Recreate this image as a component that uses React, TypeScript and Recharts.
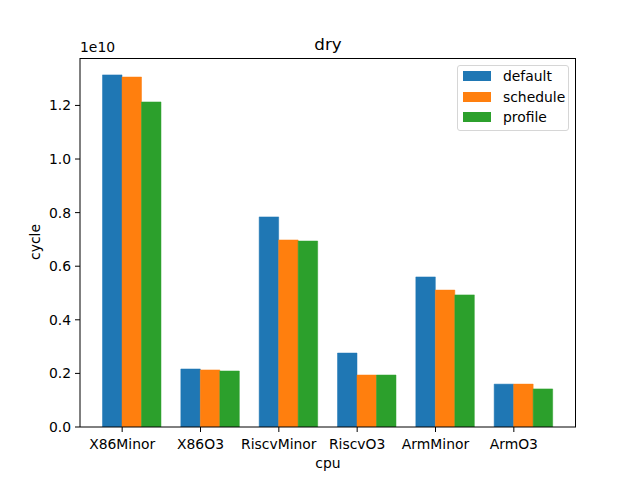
import { Bar, BarChart, Legend, XAxis, YAxis } from "recharts";

const categories = ["X86Minor", "X86O3", "RiscvMinor", "RiscvO3", "ArmMinor", "ArmO3"];
const seriesNames = ["default", "schedule", "profile"];
const defaultCycles = [1.314e10, 0.2165e10, 0.784e10, 0.276e10, 0.56e10, 0.16e10];
const scheduleCycles = [1.306e10, 0.213e10, 0.698e10, 0.194e10, 0.511e10, 0.16e10];
const profileCycles = [1.213e10, 0.209e10, 0.694e10, 0.194e10, 0.493e10, 0.142e10];
const yTicks = [0, 0.2e10, 0.4e10, 0.6e10, 0.8e10, 1.0e10, 1.2e10];
const yMax = 1.377e10;

const FONT = "'DejaVu Sans', sans-serif";
const FS = 13.9;

// pad is an empty first slot so the tick lands between default and schedule, like matplotlib
const data = categories.map((cpu, i) => ({
  cpu,
  pad: 0,
  default: defaultCycles[i],
  schedule: scheduleCycles[i],
  profile: profileCycles[i],
}));

function LegendBox({ payload }: any) {
  const items = seriesNames
    .map((name) => (payload || []).find((p: any) => p.value === name))
    .filter(Boolean);
  return (
    <div
      style={{
        width: 110,
        border: "1px solid #d6d6d6",
        borderRadius: 3,
        background: "rgba(255,255,255,0.8)",
        paddingBottom: 2.5,
        fontFamily: FONT,
        fontSize: FS,
        color: "#000",
      }}
    >
      {items.map((p: any) => (
        <div key={p.value} style={{ height: 20.5, display: "flex", alignItems: "center" }}>
          <span style={{ display: "inline-block", width: 28, height: 10, background: p.color, marginLeft: 5, marginRight: 12 }} />
          <span>{p.value}</span>
        </div>
      ))}
    </div>
  );
}

export default function App() {
  const text = { fontFamily: FONT, fontSize: FS, fill: "#000" };
  return (
    <div style={{ position: "absolute", left: 0, top: 0, width: 640, height: 480, background: "#fff", fontFamily: FONT }}>
      <BarChart
        width={640}
        height={480}
        data={data}
        margin={{ top: 58, right: 64, bottom: 23, left: 20 }}
        barCategoryGap={0}
        barGap={0}
        barSize={19.5}
      >
        <XAxis
          dataKey="cpu"
          height={30}
          padding={{ left: 3, right: 23 }}
          tick={text}
          tickSize={5}
          tickMargin={7}
          stroke="#000"
          tickLine={{ stroke: "#000" }}
          axisLine={{ stroke: "#000" }}
        />
        <YAxis
          width={60}
          domain={[0, yMax]}
          ticks={yTicks}
          tickFormatter={(v: number) => (v / 1e10).toFixed(1)}
          tick={text}
          tickSize={5}
          tickMargin={4}
          stroke="#000"
          axisLine={{ stroke: "#000" }}
          allowDataOverflow
        />
        <Legend
          layout="horizontal"
          verticalAlign="middle"
          align="center"
          content={<LegendBox />}
          wrapperStyle={{ position: "absolute", top: 65, left: 457, width: 112 }}
        />
        <Bar dataKey="pad" fill="none" legendType="none" isAnimationActive={false} />
        <Bar dataKey="default" fill="#1f77b4" stroke="#1f77b4" strokeWidth={0.5} isAnimationActive={false} />
        <Bar dataKey="schedule" fill="#ff7f0e" stroke="#ff7f0e" strokeWidth={0.5} isAnimationActive={false} />
        <Bar dataKey="profile" fill="#2ca02c" stroke="#2ca02c" strokeWidth={0.5} isAnimationActive={false} />
      </BarChart>
      {/* top and right spines */}
      <div
        style={{
          position: "absolute",
          left: 80,
          top: 58,
          width: 496,
          height: 369,
          borderTop: "1px solid #000",
          borderRight: "1px solid #000",
          boxSizing: "border-box",
          pointerEvents: "none",
        }}
      />
      <div style={{ position: "absolute", left: 0, width: 656, top: 34, textAlign: "center", fontSize: 16.7, lineHeight: "20px" }}>dry</div>
      <div style={{ position: "absolute", left: 80, top: 39, fontSize: FS, lineHeight: "16px" }}>1e10</div>
      <div style={{ position: "absolute", left: 0, width: 656, top: 455, textAlign: "center", fontSize: FS, lineHeight: "16px" }}>cpu</div>
      <div
        style={{
          position: "absolute",
          left: 35,
          top: 242,
          fontSize: FS,
          lineHeight: "16px",
          transform: "translate(-50%, -50%) rotate(-90deg)",
          whiteSpace: "nowrap",
        }}
      >
        cycle
      </div>
    </div>
  );
}
